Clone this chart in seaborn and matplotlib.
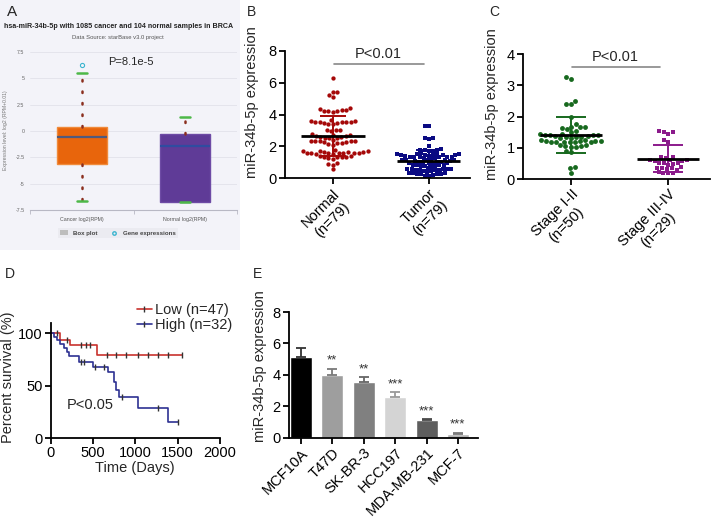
import numpy as np
import pandas as pd
import matplotlib
matplotlib.use("Agg")
import matplotlib.pyplot as plt
import seaborn as sns
from matplotlib.lines import Line2D
from matplotlib.patches import Patch, Rectangle

sns.set_theme(style="ticks")
plt.rcParams["font.family"] = ["Liberation Sans", "DejaVu Sans"]

# ---- data ----
# A: starBase box plot summary
box_labels = ["Cancer log2(RPM)", "Normal log2(RPM)"]
box_q1 = [-3.1, -6.7]
box_median = [-0.6, -1.4]
box_q3 = [0.4, -0.3]
box_low = [-6.6, -6.75]
box_high = [5.5, 1.3]
box_outliers = [[6.3], []]

# B: normal vs tumor
groups_b = ["Normal\n(n=79)", "Tumor\n(n=79)"]
normal_expr = [6.3,
               5.4, 5.4, 5.2, 5.1,
               4.4, 4.35, 4.3, 4.3, 4.25, 4.2, 4.2, 4.15,
               3.65, 3.6, 3.6, 3.55, 3.55, 3.5, 3.5, 3.5, 3.45, 3.45, 3.4, 3.4,
               3.05, 3.0, 3.0, 2.95,
               2.75, 2.7, 2.7, 2.65, 2.65, 2.6, 2.6, 2.55, 2.55, 2.5,
               2.4, 2.35, 2.35, 2.3, 2.3, 2.3, 2.25, 2.25, 2.2, 2.2, 2.15, 2.1,
               1.75, 1.7, 1.7, 1.7, 1.65, 1.65, 1.65, 1.6, 1.6, 1.6, 1.6,
               1.55, 1.55, 1.55, 1.5, 1.5,
               1.4, 1.4, 1.35, 1.35, 1.3, 1.3, 1.25, 1.2,
               0.95, 0.9, 0.85,
               0.55]
tumor_expr = [3.3, 3.25,
              2.55, 2.5, 2.45,
              2.0,
              1.8, 1.78, 1.75, 1.75, 1.72, 1.7,
              1.55, 1.52, 1.5, 1.5, 1.5, 1.48, 1.48, 1.45, 1.45, 1.42,
              1.38, 1.36, 1.35, 1.35, 1.33, 1.32, 1.3, 1.3, 1.28, 1.25,
              1.18, 1.16, 1.15, 1.15, 1.12, 1.12, 1.1, 1.08,
              1.02, 1.0, 1.0, 0.98, 0.97, 0.95, 0.95, 0.92,
              0.85, 0.82, 0.8, 0.8, 0.78, 0.76, 0.75, 0.72,
              0.6, 0.58, 0.56, 0.55, 0.55, 0.54, 0.52, 0.5, 0.5, 0.48, 0.46, 0.45,
              0.35, 0.32, 0.3, 0.3, 0.28, 0.27, 0.25, 0.25,
              0.18, 0.15, 0.12]

# C: by stage
groups_c = ["Stage I-II\n(n=50)", "Stage III-IV\n(n=29)"]
stage12_expr = [3.25, 3.2,
                2.5, 2.4, 2.4,
                2.0,
                1.75,
                1.68, 1.65, 1.65, 1.62, 1.6,
                1.55, 1.52,
                1.45, 1.44, 1.42, 1.42, 1.4, 1.4, 1.38, 1.38, 1.36, 1.35, 1.34, 1.32, 1.3,
                1.25, 1.24, 1.23, 1.22, 1.22, 1.21, 1.2, 1.2, 1.19, 1.18, 1.18, 1.17,
                1.1, 1.08, 1.06, 1.05, 1.04, 1.02,
                0.9, 0.85,
                0.38, 0.35,
                0.2]
stage34_expr = [1.55, 1.5, 1.5, 1.45,
                1.25, 1.2,
                0.72, 0.7, 0.68,
                0.62, 0.6, 0.6, 0.58, 0.58,
                0.52, 0.5, 0.5, 0.48, 0.46,
                0.38, 0.36, 0.35, 0.34, 0.32, 0.3,
                0.22, 0.2, 0.2, 0.18]

# D: Kaplan-Meier
low_time = [0, 110, 228, 543, 1547]
low_surv = [100, 94, 88.5, 79, 79]
low_censor_t = [71, 189, 358, 409, 460, 657, 775, 893, 1031, 1150, 1268, 1386, 1547]
low_censor_s = [100, 94, 88.5, 88.5, 88.5, 79, 79, 79, 79, 79, 79, 79, 79]
high_time = [0, 30, 70, 110, 150, 190, 210, 330, 500, 680, 740, 770, 810, 1035, 1390, 1500]
high_surv = [100, 97, 94, 90, 86, 82, 78, 73, 68, 63, 54, 46, 39, 29, 15, 15]
high_censor_t = [358, 385, 523, 622, 840, 1271, 1500]
high_censor_s = [73, 73, 68, 68, 39, 29, 15]

# E: cell lines
cell_lines = ["MCF10A", "T47D", "SK-BR-3", "HCC197", "MDA-MB-231", "MCF-7"]
cell_expr = [5.13, 4.01, 3.54, 2.59, 1.1, 0.25]
cell_err = [0.6, 0.38, 0.32, 0.28, 0.08, 0.05]
cell_stars = ["", "**", "**", "***", "***", "***"]

# ---- layout helpers (pixel coordinates of the 716x523 picture) ----
W, H = 716, 523
FS = 10.5
fig = plt.figure(figsize=(W / 100, H / 100), dpi=100)


def px_axes(x0, y0, x1, y1):
    return fig.add_axes([x0 / W, 1 - y1 / H, (x1 - x0) / W, (y1 - y0) / H])


def fig_text(x, y, s, **kw):
    kw.setdefault("ha", "center")
    kw.setdefault("va", "center")
    fig.text(x / W, 1 - y / H, s, **kw)


def style_axis(ax):
    sns.despine(ax=ax)
    for side in ("left", "bottom"):
        ax.spines[side].set_linewidth(1.3)
        ax.spines[side].set_color("black")
    ax.tick_params(direction="out", length=4, width=1.3, labelsize=FS,
                   color="black", labelcolor="black", pad=2)
    ax.set_xlabel("")
    ax.set_ylabel("")


# ---- A ----
fig.add_artist(Rectangle((0, 1 - 250 / H), 240 / W, 250 / H, transform=fig.transFigure,
                         facecolor="#F3F3F9", edgecolor="none", zorder=0))
axA = px_axes(30, 52, 237, 210)
axA.set_facecolor("none")
stats = [dict(label=l, med=m, q1=a, q3=b, whislo=lo, whishi=hi, fliers=f)
         for l, m, a, b, lo, hi, f in zip(box_labels, box_median, box_q1, box_q3,
                                          box_low, box_high, box_outliers)]
art = axA.bxp(stats, positions=[0, 1], widths=0.48, patch_artist=True, capwidths=0.1,
              whiskerprops=dict(color="#8B2E1E", linestyle=(0, (0.6, 4)), linewidth=1.8,
                                dash_capstyle="round"),
              capprops=dict(color="#4DB848", linewidth=1.8),
              flierprops=dict(marker="o", markerfacecolor="none", markeredgecolor="#3BB5CF",
                              markersize=3, markeredgewidth=0.8),
              medianprops=dict(linewidth=1.6))
for box, fc, ec in zip(art["boxes"], ["#E8650C", "#5F3B97"], ["#F08A3A", "#6E4BA5"]):
    box.set_facecolor(fc)
    box.set_edgecolor(ec)
for med, c in zip(art["medians"], ["#4E5A7E", "#2F4CA0"]):
    med.set_color(c)
axA.set_xlim(-0.5, 1.5)
axA.set_ylim(-7.5, 7.5)
axA.set_yticks([-7.5, -5, -2.5, 0, 2.5, 5, 7.5])
axA.set_yticklabels(["-7.5", "-5", "-2.5", "0", "2.5", "5", "7.5"])
axA.yaxis.grid(True, color="#E2E2EA", linewidth=0.6)
axA.set_axisbelow(True)
for side in ("left", "top", "right"):
    axA.spines[side].set_visible(False)
axA.spines["bottom"].set_color("#B8B8C4")
axA.spines["bottom"].set_linewidth(0.8)
axA.tick_params(axis="y", length=0, labelsize=3.8, labelcolor="#666666", pad=4)
axA.tick_params(axis="x", length=0, labelsize=3.8, labelcolor="#555555", pad=5)
axA.set_xticks([-0.5, 0.5, 1.5], minor=True)
axA.tick_params(axis="x", which="minor", length=3, color="#B8B8C4", width=0.6)
axA.text(0.47, 6.55, "P=8.1e-5", fontsize=8, ha="center", va="center")
fig_text(12, 12, "A", fontsize=11)
fig_text(119, 27, "hsa-miR-34b-5p with 1085 cancer and 104 normal samples in BRCA",
         fontsize=5.1, fontweight="bold", color="#222222")
fig_text(118, 38, "Data Source: starBase v3.0 project", fontsize=4.2, color="#555555")
fig_text(6, 130, "Expression level: log2 (RPM+0.01)", fontsize=3.7, color="#777777",
         rotation=90)
handles = [Patch(facecolor="#BDBDBD", edgecolor="none", label="Box plot"),
           Line2D([], [], marker="o", ls="none", mfc="none", mec="#3BB5CF", ms=2.5,
                  label="Gene expressions")]
legA = fig.legend(handles=handles, loc="center", bbox_to_anchor=(118 / W, 1 - 233 / H),
                  ncol=2, frameon=True, facecolor="#E9E9F0", edgecolor="none",
                  fancybox=False, handlelength=1.2, handleheight=0.8, columnspacing=2.2,
                  prop={"weight": "bold", "size": 4.4})
for t in legA.get_texts():
    t.set_color("#444444")


# ---- B and C: scatter with mean +/- SD ----
def scatter_panel(ax, groups, series, colors, markers, sizes, ylim, yticks,
                  mean_half, capsize, p_line, p_text):
    df = pd.DataFrame({"group": np.repeat(groups, [len(s) for s in series]),
                       "value": np.concatenate(series)})
    for g, c, m, sz in zip(groups, colors, markers, sizes):
        sns.swarmplot(data=df[df.group == g], x="group", y="value", order=groups,
                      color=c, marker=m, size=sz, linewidth=0, ax=ax, zorder=2,
                      warn_thresh=1)
    for i, (vals, c) in enumerate(zip(series, colors)):
        m, s = np.mean(vals), np.std(vals, ddof=1)
        ax.errorbar(i, m, yerr=s, fmt="none", ecolor=c, capsize=capsize,
                    elinewidth=1.4, capthick=1.4, zorder=4)
        ax.hlines(m, i - mean_half, i + mean_half, color="black", lw=2, zorder=5)
    ax.plot(p_line[0], p_line[1], color="#888888", lw=1.2, clip_on=False)
    ax.text(p_text[0], p_text[1], "P<0.01", ha="center", va="bottom", fontsize=FS)
    ax.set_ylim(*ylim)
    ax.set_yticks(yticks)
    style_axis(ax)
    ax.set_xticks([0, 1])
    ax.set_xticklabels(groups, rotation=45, ha="right", rotation_mode="anchor",
                       multialignment="center", fontsize=FS)


axB = px_axes(285, 51, 470, 178)
scatter_panel(axB, groups_b, [normal_expr, tumor_expr], ["#A50808", "#0A0A82"],
              ["o", "s"], [3.1, 2.8], (0, 8), [0, 2, 4, 6, 8], 0.33, 9.5,
              ([0.01, 0.95], [7.2, 7.2]), (0.47, 7.35))
axB.set_xlim(-0.5, 1.43)
fig_text(251, 12, "B", fontsize=10)
fig_text(252, 102, "miR-34b-5p expression", fontsize=FS, rotation=90)

axC = px_axes(523, 54, 710, 179)
scatter_panel(axC, groups_c, [stage12_expr, stage34_expr], ["#17691E", "#8B1A8B"],
              ["o", "s"], [3.5, 3.3], (0, 4), [0, 1, 2, 3, 4], 0.32, 11,
              ([0.01, 0.92], [3.59, 3.59]), (0.45, 3.68))
axC.set_xlim(-0.495, 1.43)
fig_text(494, 12, "C", fontsize=10)
fig_text(492, 104, "miR-34b-5p expression", fontsize=FS, rotation=90)

# ---- D: survival ----
red, blue = "#C8322D", "#2E3192"
axD = px_axes(51, 323, 220, 438)
km = pd.DataFrame({"time": low_time + high_time,
                   "surv": low_surv + high_surv,
                   "group": ["Low"] * len(low_time) + ["High"] * len(high_time)})
sns.lineplot(data=km, x="time", y="surv", hue="group", palette=[red, blue],
             drawstyle="steps-post", estimator=None, sort=False, lw=1.2,
             legend=False, ax=axD)
axD.plot(low_censor_t, low_censor_s, ls="none", marker="|", ms=4.5, mew=1, color="#333333")
axD.plot(high_censor_t, high_censor_s, ls="none", marker="|", ms=4.5, mew=1, color="#333333")
axD.set_xlim(0, 2000)
axD.set_ylim(0, 110)
axD.set_xticks([0, 500, 1000, 1500, 2000])
axD.set_yticks([0, 50, 100])
style_axis(axD)
handlesD = [Line2D([], [], color=red, marker="|", ms=5, mec="#333333", lw=1.2, label="Low (n=47)"),
            Line2D([], [], color=blue, marker="|", ms=5, mec="#333333", lw=1.2, label="High (n=32)")]
axD.legend(handles=handlesD, loc="upper left", bbox_to_anchor=(137 / W, 1 - 303 / H),
           bbox_transform=fig.transFigure, frameon=False, fontsize=FS, handlelength=1.0,
           handletextpad=0.25, labelspacing=0.05, borderpad=0, borderaxespad=0)
fig_text(90, 405, "P<0.05", fontsize=FS)
fig_text(10, 274, "D", fontsize=10)
fig_text(8.5, 377, "Percent survival (%)", fontsize=FS, rotation=90)
fig_text(135, 468, "Time (Days)", fontsize=FS)

# ---- E: bars ----
bar_colors = ["#000000", "#9E9E9E", "#808080", "#D4D4D4", "#5E5E5E", "#B4B4B4"]
err_colors = ["#333333", "#7A7A7A", "#666666", "#9A9A9A", "#4A4A4A", "#7A7A7A"]
axE = px_axes(289, 312, 478, 437.5)
sns.barplot(x=cell_lines, y=cell_expr, hue=cell_lines, palette=bar_colors, legend=False,
            width=0.7, saturation=1, ax=axE)
for i, (v, e) in enumerate(zip(cell_expr, cell_err)):
    axE.errorbar(i, v, yerr=[[0], [e]], fmt="none", ecolor=err_colors[i], capsize=3.5,
                 elinewidth=1.3, capthick=1.3)
    axE.text(i, v + e + 0.12, cell_stars[i], ha="center", va="bottom", fontsize=9.5,
             color="#333333")
axE.set_xlim(-0.38, 5.64)
axE.set_ylim(0, 8)
axE.set_yticks([0, 2, 4, 6, 8])
style_axis(axE)
axE.set_xticks(range(len(cell_lines)))
axE.set_xticklabels(cell_lines, rotation=45, ha="right", rotation_mode="anchor", fontsize=FS)
fig_text(258, 274, "E", fontsize=10)
fig_text(260, 366, "miR-34b-5p expression", fontsize=FS, rotation=90)

fig.savefig("out.png", dpi=100)
